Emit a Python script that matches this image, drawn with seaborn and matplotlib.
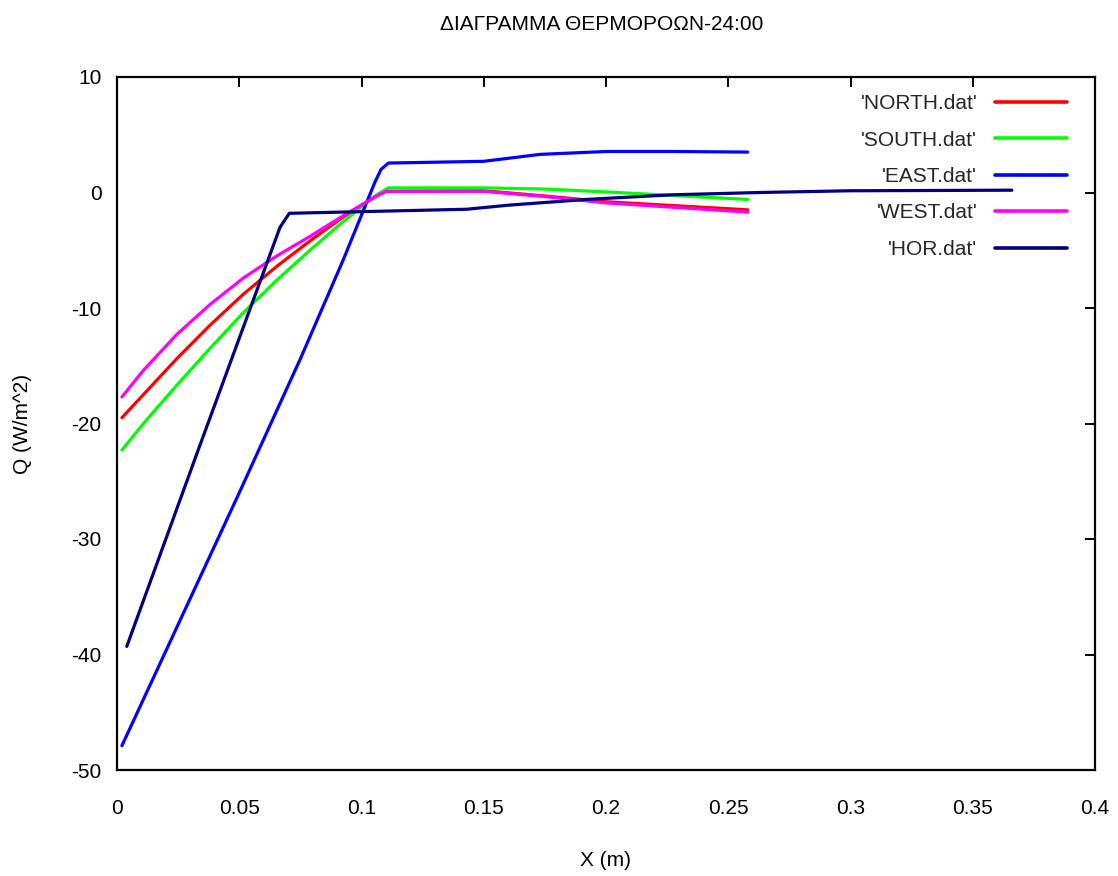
import matplotlib
matplotlib.use("Agg")
import matplotlib.pyplot as plt
import pandas as pd
import seaborn as sns

# Heat flux profiles through the wall at 24:00
north_x = [0.002, 0.0108, 0.0244, 0.038, 0.0517, 0.0653, 0.0789, 0.0926, 0.1062, 0.11,
           0.15, 0.175, 0.2, 0.258]
north_q = [-19.5, -17.5, -14.4, -11.5, -8.8, -6.4, -4.2, -2.1, -0.3, 0.1,
           0.15, -0.3, -0.8, -1.5]

south_x = [0.002, 0.0108, 0.0244, 0.038, 0.0517, 0.0653, 0.0789, 0.0926, 0.1062, 0.111,
           0.15, 0.175, 0.2, 0.258]
south_q = [-22.3, -20.0, -16.7, -13.5, -10.4, -7.6, -5.0, -2.5, -0.2, 0.4,
           0.4, 0.3, 0.05, -0.6]

east_x = [0.002, 0.05, 0.075, 0.0926, 0.1055, 0.108, 0.111, 0.15, 0.173, 0.2, 0.227, 0.258]
east_q = [-47.9, -26.0, -14.4, -5.8, 0.9, 2.0, 2.55, 2.7, 3.3, 3.55, 3.55, 3.5]

west_x = [0.002, 0.0108, 0.0244, 0.038, 0.0517, 0.0653, 0.0789, 0.0926, 0.1062, 0.11,
          0.15, 0.175, 0.2, 0.258]
west_q = [-17.7, -15.4, -12.3, -9.7, -7.4, -5.5, -3.8, -2.0, -0.3, 0.1,
          0.1, -0.35, -0.9, -1.7]

hor_x = [0.004, 0.0332, 0.0667, 0.0705, 0.143, 0.16, 0.192, 0.227, 0.263, 0.3, 0.366]
hor_q = [-39.3, -22.3, -3.0, -1.8, -1.45, -1.1, -0.6, -0.2, 0.0, 0.15, 0.2]

labels = ["'NORTH.dat'", "'SOUTH.dat'", "'EAST.dat'", "'WEST.dat'", "'HOR.dat'"]
colors = ["#ff0000", "#00ff00", "#0000ff", "#ff00ff", "#000080"]

x_ticks = [0, 0.05, 0.1, 0.15, 0.2, 0.25, 0.3, 0.35, 0.4]
x_ticklabels = ["0", "0.05", "0.1", "0.15", "0.2", "0.25", "0.3", "0.35", "0.4"]
y_ticks = [10, 0, -10, -20, -30, -40, -50]

series = [(north_x, north_q), (south_x, south_q), (east_x, east_q),
          (west_x, west_q), (hor_x, hor_q)]
frames = []
for lab, (xs, qs) in zip(labels, series):
    frames.append(pd.DataFrame({"x": xs, "q": qs, "series": lab}))
df = pd.concat(frames, ignore_index=True)

sns.set_theme(style="white")
plt.rcParams["font.family"] = ["Liberation Sans", "DejaVu Sans"]
plt.rcParams["axes.unicode_minus"] = False

FS = 15
W, H = 1118, 876
fig = plt.figure(figsize=(W / 100, H / 100), dpi=100)
ax = fig.add_axes([117 / W, 1 - 770 / H, (1095 - 117) / W, (770 - 77) / H])

sns.lineplot(data=df, x="x", y="q", hue="series", hue_order=labels,
             palette=colors, sort=False, estimator=None, linewidth=2.3, ax=ax)

ax.set_xlim(0, 0.4)
ax.set_ylim(-50, 10)
ax.set_xticks(x_ticks)
ax.set_xticklabels(x_ticklabels)
ax.set_yticks(y_ticks)
ax.tick_params(axis="both", direction="in", length=7, width=1.4, color="black",
               top=True, right=True, labelsize=FS, labelcolor="black")
ax.tick_params(axis="x", pad=21)
ax.tick_params(axis="y", pad=11)
for sp in ax.spines.values():
    sp.set_color("black")
    sp.set_linewidth(1.6)

ax.set_xlabel("X (m)", fontsize=FS, color="black")
ax.xaxis.set_label_coords(0.5, (770 - 860) / 693)
ax.xaxis.label.set_va("center")
ax.set_ylabel("Q (W/m^2)", fontsize=FS, color="black")
ax.yaxis.set_label_coords((23 - 117) / 978, 0.5)
ax.yaxis.label.set_va("center")

fig.text(602 / W, 1 - 30 / H, "ΔΙΑΓΡΑΜΜΑ ΘΕΡΜΟΡΟΩΝ-24:00", ha="center",
         va="baseline", fontsize=FS, color="black")

leg = ax.legend(loc="upper right", frameon=False, markerfirst=False,
                fontsize=FS, handlelength=3.45, labelspacing=0.84,
                borderaxespad=0, borderpad=0, handletextpad=0.86,
                bbox_to_anchor=((1067 - 117) / 978, (770 - 94) / 693))
for line in leg.get_lines():
    line.set_linewidth(2.6)

fig.savefig("out.png", dpi=100, facecolor="white")
